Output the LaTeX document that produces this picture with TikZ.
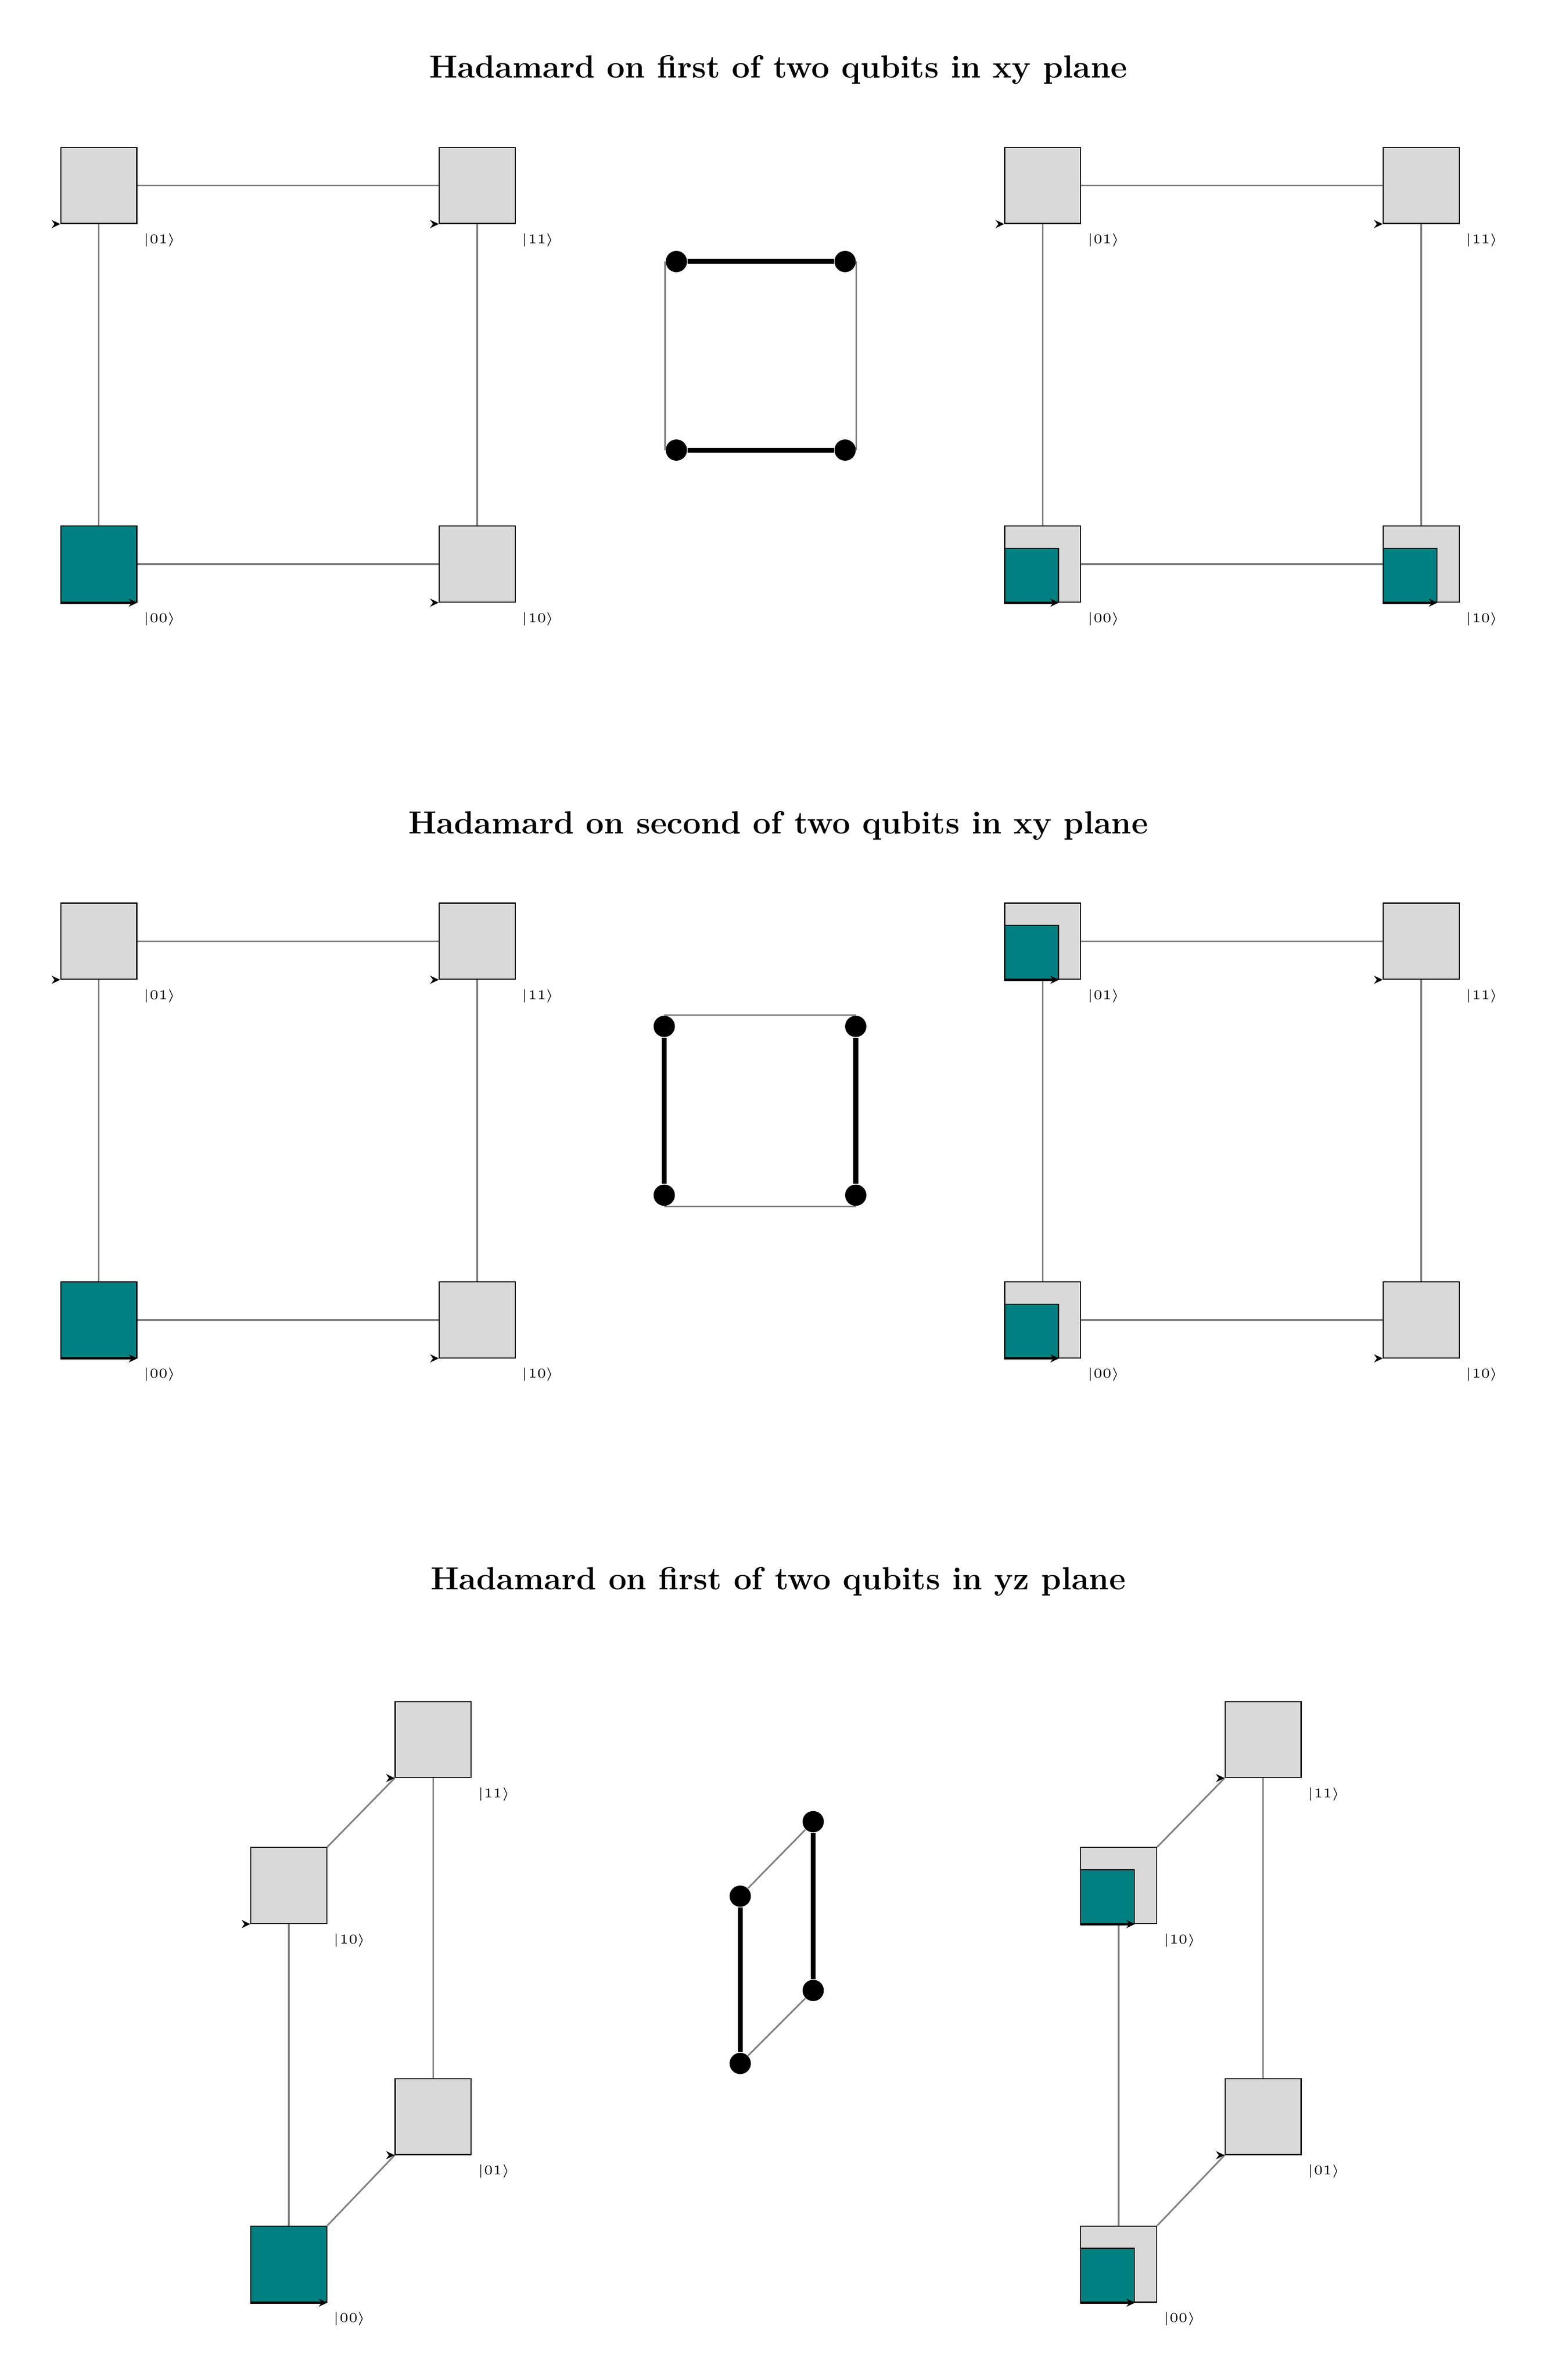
\documentclass[tikz,border=0pt]{standalone}
\usepackage{amsmath}
\usetikzlibrary{arrows.meta}

\tikzset{
  qbox/.style={draw, fill=gray!30, minimum size=1cm, inner sep=0pt, line width=0.4pt},
  amp/.style={draw, fill=teal, inner sep=0pt, line width=0.4pt, anchor=south west},
  link/.style={draw=gray, line width=0.6pt},
  phase/.style={-{Stealth[length=3.2pt,width=3pt]}, line width=0.9pt},
  lbl/.style={font=\tiny, inner sep=0pt},
  ttl/.style={font=\large\bfseries},
  dot/.style={circle, fill=black, minimum size=0.28cm, inner sep=0pt},
  pair/.style={line width=1.8pt}
}

\begin{document}
\begin{tikzpicture}[x=0.02cm, y=-0.02cm]
  \useasboundingbox (0,0) rectangle (1015.5,1565.2);

  % titles
  \node[ttl] (t1) at (512,46) {Hadamard on first of two qubits in xy plane};
  \node[ttl] (t2) at (512,543) {Hadamard on second of two qubits in xy plane};
  \node[ttl] (t3) at (512,1040) {Hadamard on first of two qubits in yz plane};

  % square panels (xy plane)
  \foreach \p/\dx/\dy in {a/0/0, b/621/0, c/0/497, d/621/497} {
    \node[qbox] (\p01) at (65+\dx, 122+\dy) {};
    \node[qbox] (\p11) at (314+\dx, 122+\dy) {};
    \node[qbox] (\p00) at (65+\dx, 371+\dy) {};
    \node[qbox] (\p10) at (314+\dx, 371+\dy) {};
    \draw[link] (\p01.east) -- (\p11.west);
    \draw[link] (\p00.east) -- (\p10.west);
    \draw[link] (\p01.south) -- (\p00.north);
    \draw[link] (\p11.south) -- (\p10.north);
  }

  % slanted panels (yz plane)
  \foreach \p/\dx in {e/0, f/546} {
    \node[qbox] (\p11) at (285+\dx, 1144) {};
    \node[qbox] (\p10) at (190+\dx, 1240) {};
    \node[qbox] (\p01) at (285+\dx, 1392) {};
    \node[qbox] (\p00) at (190+\dx, 1489) {};
    \draw[link] (\p10.north east) -- (\p11.south west);
    \draw[link] (\p00.north east) -- (\p01.south west);
    \draw[link] (\p10.south) -- (\p00.north);
    \draw[link] (\p11.south) -- (\p01.north);
  }

  % state labels
  \foreach \p in {a,b,c,d,e,f}
    \foreach \s in {00,01,10,11}
      \node[lbl] at ([xshift=0.8cm, yshift=-0.72cm]\p\s.center) {$|\s\rangle$};

  % empty amplitudes: phase tip only
  \foreach \b in {a01,a11,a10,b01,b11,c01,c11,c10,d11,d10,e11,e10,e01,f11,f01}
    \draw[phase] ([xshift=-1pt]\b.south west) -- (\b.south west);

  % amplitudes
  \foreach \b/\r in {a00/1, b00/0.707, b10/0.707, c00/1, d01/0.707, d00/0.707,
                     e00/1, f10/0.707, f00/0.707} {
    \node[amp, minimum size=\r cm] (\b f) at (\b.south west) {};
    \draw[phase] (\b.south west) -- (\b f.south east);
  }

  % pairings, first qubit xy
  \coordinate (ga) at (445,172);
  \coordinate (gb) at (556,172);
  \coordinate (gc) at (445,296);
  \coordinate (gd) at (556,296);
  % pairings, second qubit xy
  \coordinate (ha) at (437,675);
  \coordinate (hb) at (563,675);
  \coordinate (hc) at (437,786);
  \coordinate (hd) at (563,786);
  % pairings, first qubit yz
  \coordinate (ka) at (487,1247);
  \coordinate (kb) at (535,1198);
  \coordinate (kc) at (487,1357);
  \coordinate (kd) at (535,1309);

  \foreach \c in {ga,gb,gc,gd,ha,hb,hc,hd,ka,kb,kc,kd}
    \node[dot] (m\c) at (\c) {};

  \draw[link] (mga.west) -- (mgc.west);
  \draw[link] (mgb.east) -- (mgd.east);
  \draw[link] (mha.north) -- (mhb.north);
  \draw[link] (mhc.south) -- (mhd.south);
  \draw[link] (mka) -- (mkb);
  \draw[link] (mkc) -- (mkd);

  \draw[pair] (mga) -- (mgb);
  \draw[pair] (mgc) -- (mgd);
  \draw[pair] (mha) -- (mhc);
  \draw[pair] (mhb) -- (mhd);
  \draw[pair] (mka) -- (mkc);
  \draw[pair] (mkb) -- (mkd);
\end{tikzpicture}
\end{document}
